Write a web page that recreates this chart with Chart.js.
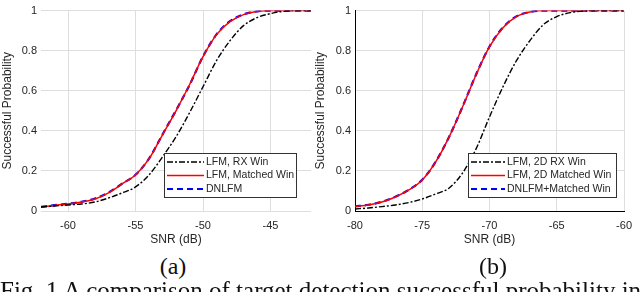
<!DOCTYPE html>
<html>
<head>
<meta charset="utf-8">
<script src="https://cdn.jsdelivr.net/npm/chart.js@4"></script>
<style>
  body { margin: 0; background: #fff; width: 640px; height: 292px; overflow: hidden; position: relative; }
  canvas { position: absolute; top: 0; }
  #chartA { left: 0; }
  #chartB { left: 310px; }
  .sub { position: absolute; top: 252px; width: 60px; text-align: center; font-family: "Liberation Serif", serif; font-size: 24px; color: #111; line-height: 28px; }
  .cap { position: absolute; left: 0; top: 277px; font-family: "Liberation Serif", serif; font-size: 25px; color: #111; white-space: nowrap; line-height: 28px; }
</style>
</head>
<body>
<canvas id="chartA" width="320" height="250"></canvas>
<canvas id="chartB" width="330" height="250"></canvas>
<div class="sub" style="left:143px">(a)</div>
<div class="sub" style="left:463px">(b)</div>
<div class="cap">Fig. 1 A comparison of target detection successful probability in</div>
<script>
// (a) SNR axis and detection probabilities
const snrA = [-62, -61, -60, -59, -58, -57, -56, -55, -54, -53, -52, -51, -50, -49, -48, -47, -46, -45, -44, -43, -42];
const rxWinA = [0.02, 0.025, 0.03, 0.035, 0.045, 0.065, 0.09, 0.12, 0.18, 0.27, 0.37, 0.49, 0.62, 0.75, 0.85, 0.925, 0.965, 0.985, 0.997, 1, 1];
const matchedWinA = [0.02, 0.028, 0.035, 0.045, 0.06, 0.09, 0.135, 0.18, 0.26, 0.38, 0.5, 0.63, 0.77, 0.88, 0.945, 0.98, 0.995, 1, 1, 1, 1];
const dnlfmA = [0.021, 0.029, 0.036, 0.046, 0.062, 0.092, 0.136, 0.181, 0.261, 0.382, 0.502, 0.628, 0.771, 0.881, 0.947, 0.981, 0.996, 1, 1, 1, 1];
const xTicksA = [-60, -55, -50, -45];

// (b)
const snrB = [-80, -79, -78, -77, -76, -75, -74, -73, -72, -71, -70, -69, -68, -67, -66, -65, -64, -63, -62, -61, -60];
const rxWinB = [0.01, 0.015, 0.022, 0.03, 0.042, 0.06, 0.085, 0.115, 0.19, 0.31, 0.47, 0.62, 0.75, 0.85, 0.93, 0.97, 0.99, 0.998, 1, 1, 1];
const matchedWinB = [0.022, 0.03, 0.045, 0.07, 0.105, 0.155, 0.245, 0.37, 0.52, 0.68, 0.82, 0.915, 0.97, 0.993, 1, 1, 1, 1, 1, 1, 1];
const dnlfmB = [0.023, 0.031, 0.046, 0.071, 0.106, 0.156, 0.246, 0.371, 0.521, 0.681, 0.821, 0.916, 0.971, 0.993, 1, 1, 1, 1, 1, 1, 1];
const xTicksB = [-80, -75, -70, -65, -60];

const yTicks = [0, 0.2, 0.4, 0.6, 0.8, 1];
const yTickLabels = ['0', '0.2', '0.4', '0.6', '0.8', '1'];

const labelsA = ['LFM, RX Win', 'LFM, Matched Win', 'DNLFM'];
const labelsB = ['LFM, 2D RX Win', 'LFM, 2D Matched Win', 'DNLFM+Matched Win'];

const textColor = '#262626';
const tickFont = { family: '"Liberation Sans", Arial, sans-serif', size: 11 };
const titleFont = { family: '"Liberation Sans", Arial, sans-serif', size: 12 };

// legend box drawn inside the plot, like matlab
const boxLegend = {
    id: 'boxLegend',
    afterDatasetsDraw(chart, args, opts) {
        const ctx = chart.ctx;
        ctx.save();
        ctx.fillStyle = '#fff';
        ctx.fillRect(opts.x, opts.y, opts.w, opts.h);
        ctx.strokeStyle = '#333';
        ctx.lineWidth = 1;
        ctx.strokeRect(opts.x + 0.5, opts.y + 0.5, opts.w, opts.h);
        chart.data.datasets.forEach((ds, i) => {
            const y = opts.y + 9 + i * 13.5;
            ctx.beginPath();
            ctx.setLineDash(ds.borderDash || []);
            ctx.strokeStyle = ds.borderColor;
            ctx.lineWidth = ds.borderWidth;
            ctx.moveTo(opts.x + 3, y);
            ctx.lineTo(opts.x + 3 + opts.lineLen, y);
            ctx.stroke();
            ctx.setLineDash([]);
            ctx.fillStyle = textColor;
            ctx.font = '10.5px "Liberation Sans", Arial, sans-serif';
            ctx.textBaseline = 'middle';
            ctx.fillText(ds.label, opts.x + 5 + opts.lineLen, y);
        });
        ctx.restore();
    }
};

function toPoints(xs, ys) {
    return xs.map((x, i) => ({ x: x, y: ys[i] }));
}

function makeChart(id, xs, series, labels, xMin, xMax, xTicks, axisW, titlePad, padRight, showBorder, legend) {
    const styles = [
        { borderColor: '#000', borderWidth: 1.4, borderDash: [6, 2, 2, 2] },
        { borderColor: '#ff0000', borderWidth: 1.5, borderDash: [] },
        { borderColor: '#0000ff', borderWidth: 2.2, borderDash: [6, 4] }
    ];
    new Chart(document.getElementById(id), {
        type: 'line',
        data: {
            datasets: series.map((ys, i) => Object.assign({
                label: labels[i],
                data: toPoints(xs, ys),
                pointRadius: 0,
                fill: false,
                cubicInterpolationMode: 'monotone'
            }, styles[i]))
        },
        plugins: [boxLegend],
        options: {
            responsive: false,
            animation: false,
            layout: { padding: { top: 6, right: padRight, left: 0, bottom: 0 } },
            plugins: {
                legend: { display: false },
                tooltip: { enabled: false },
                boxLegend: legend
            },
            scales: {
                x: {
                    type: 'linear',
                    min: xMin,
                    max: xMax,
                    afterBuildTicks: s => { s.ticks = xTicks.map(v => ({ value: v })); },
                    afterFit: s => { s.height = 39; },
                    grid: { color: '#dedede', drawTicks: false },
                    border: { display: showBorder, color: '#000', width: 1 },
                    ticks: { color: textColor, font: tickFont, padding: 8, maxRotation: 0, callback: v => String(v) },
                    title: { display: true, text: 'SNR (dB)', color: textColor, font: titleFont, padding: { top: 0, bottom: 3 } }
                },
                y: {
                    min: 0,
                    max: 1,
                    afterBuildTicks: s => { s.ticks = yTicks.map(v => ({ value: v })); },
                    afterFit: s => { s.width = axisW; },
                    grid: { color: '#dedede', drawTicks: false },
                    border: { display: showBorder, color: '#000', width: 1 },
                    ticks: { color: textColor, font: tickFont, padding: 4, callback: v => yTickLabels[yTicks.indexOf(v)] },
                    title: { display: true, text: 'Successful Probability', color: textColor, font: titleFont, padding: { top: titlePad, bottom: 0 } }
                }
            }
        }
    });
}

makeChart('chartA', snrA, [rxWinA, matchedWinA, dnlfmA], labelsA, -62, -42, xTicksA, 41, 0.8, 9, false,
    { x: 164, y: 153, w: 132, h: 44, lineLen: 37 });
makeChart('chartB', snrB, [rxWinB, matchedWinB, dnlfmB], labelsB, -80, -60, xTicksB, 45, 3.8, 15, true,
    { x: 158, y: 153, w: 148, h: 44, lineLen: 34 });
</script>
</body>
</html>
